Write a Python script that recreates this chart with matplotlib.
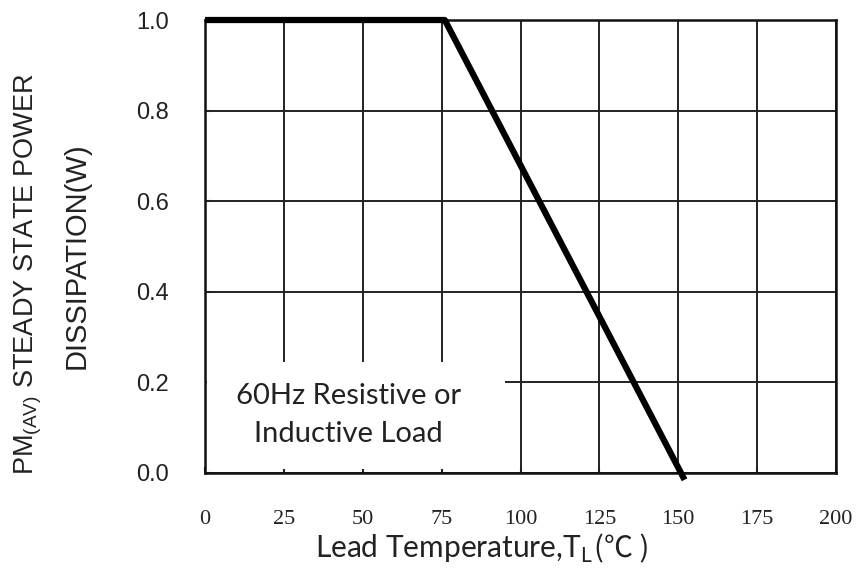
import matplotlib
matplotlib.use("Agg")
import matplotlib.pyplot as plt
from matplotlib.patches import Rectangle

# =========================================================
# DATA
# =========================================================
temp = [0, 76, 152]           # lead temperature (C)
power = [1.0, 1.0, -0.015]    # steady state power dissipation (W)
x_ticks = [0, 25, 50, 75, 100, 125, 150, 175, 200]
y_ticks = [0.0, 0.2, 0.4, 0.6, 0.8, 1.0]
note = "60Hz Resistive or\nInductive Load"

# =========================================================
# PLOT
# =========================================================
fig = plt.figure(figsize=(8.59, 5.75), dpi=100)
ax = fig.add_axes([0.2387, 0.1774, 0.7345, 0.7878])

ax.set_xlim(0, 200)
ax.set_ylim(0, 1.0)
ax.set_xticks(x_ticks)
ax.set_yticks(y_ticks)
ax.set_xticklabels([str(t) for t in x_ticks], family="Liberation Serif", fontsize=16)
ax.set_yticklabels([f"{t:.1f}" for t in y_ticks], family="Liberation Sans", fontsize=17)
ax.tick_params(axis="x", length=4, width=1.5, direction="in", pad=27, colors="#222222")
ax.tick_params(axis="y", length=4, width=1.5, direction="in", pad=26, colors="#222222")

ax.grid(True, color="#222222", linewidth=1.4)
ax.set_axisbelow(True)
for s in ax.spines.values():
    s.set_linewidth(1.8)
    s.set_color("#111111")

# white box behind the note hides the grid there
ax.add_patch(Rectangle((0.6, 0.008), 94.5, 0.237, facecolor="white", edgecolor="none", zorder=1.5))
ax.text(45.5, 0.128, note, ha="center", va="center", fontsize=21, family="Lato",
        color="#222222", linespacing=1.6, zorder=3)

ax.plot(temp, power, color="black", linewidth=4.5, solid_capstyle="butt", clip_on=False, zorder=4)

# x label in two pieces so the degree sign can fall back to a CJK font
xl = fig.text(0.3667, 0.030, "Lead Temperature,T$_\\mathregular{L}$", ha="left", va="baseline",
              family="Lato", fontsize=21.5, color="#222222")
fig.canvas.draw()
bb = xl.get_window_extent()
fig.text(bb.x1 / fig.bbox.width + 0.002, 0.030, "(\u2103 )", ha="left", va="baseline",
         family=["Noto Sans CJK SC", "DejaVu Sans"], fontsize=21, color="#222222")

fig.text(0.0326, 0.523, "PM$_\\mathregular{(AV)}$ STEADY STATE POWER", rotation=90, ha="center", va="center",
         family="Liberation Sans", fontsize=19.5, color="#222222")
fig.text(0.0896, 0.555, "DISSIPATION(W)", rotation=90, ha="center", va="center",
         family="Liberation Sans", fontsize=21, color="#222222")

plt.savefig("out.png", dpi=100)
